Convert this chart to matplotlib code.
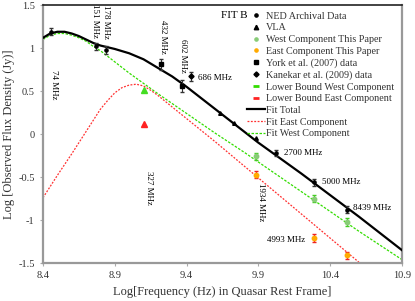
import numpy as np
import matplotlib
matplotlib.use('Agg')
import matplotlib.pyplot as plt
from matplotlib.lines import Line2D

plt.rcParams['font.family'] = ['Liberation Serif', 'DejaVu Serif']

# fit curves
fit_x = [8.40, 8.45, 8.50, 8.55, 8.60, 8.65, 8.70, 8.75, 8.80, 8.85, 8.90, 9.00, 9.10,
         9.20, 9.30, 9.40, 9.50, 9.60, 9.70, 9.80, 9.90, 10.00, 10.20, 10.40, 10.60, 10.80, 10.90]
fit_total = [1.12, 1.17, 1.19, 1.19, 1.17, 1.14, 1.10, 1.06, 1.03, 1.01, 0.99, 0.94, 0.87,
             0.77, 0.67, 0.55, 0.42, 0.29, 0.16, 0.03, -0.10, -0.22, -0.46, -0.71, -0.96, -1.22, -1.35]

west_x = [8.40, 8.45, 8.50, 8.55, 8.60, 8.65, 8.70, 8.75, 8.80, 8.90, 9.00, 9.10, 9.20,
          9.40, 9.60, 9.80, 10.00, 10.20, 10.40, 10.60, 10.80, 10.90]
fit_west = [1.10, 1.15, 1.17, 1.17, 1.15, 1.12, 1.08, 1.02, 0.97, 0.84, 0.71, 0.59, 0.47,
            0.24, 0.01, -0.21, -0.44, -0.67, -0.90, -1.13, -1.35, -1.46]

east_x = [8.40, 8.50, 8.60, 8.70, 8.80, 8.85, 8.90, 8.95, 9.00, 9.05, 9.10, 9.15, 9.20,
          9.40, 9.60, 9.80, 10.00, 10.20, 10.40, 10.60]
fit_east = [-0.74, -0.48, -0.23, 0.03, 0.29, 0.39, 0.48, 0.54, 0.57, 0.58, 0.56, 0.51, 0.45,
            0.18, -0.09, -0.37, -0.65, -0.93, -1.21, -1.49]

# data points
ned_x = [8.456, 8.77, 8.84, 10.02, 10.29, 10.52]
ned_y = [1.19, 1.02, 0.98, -0.22, -0.56, -0.88]
ned_err = [0.04, 0.04, 0.05, 0.03, 0.04, 0.04]

vla_x = [9.63, 9.73, 9.88]
vla_y = [0.24, 0.13, -0.05]

york_x = [9.22, 9.37]
york_y = [0.81, 0.56]
york_err = [0.06, 0.07]

kan_x = [9.43]
kan_y = [0.67]
kan_err = [0.05]

west_px = [9.88, 10.29, 10.52]
west_py = [-0.26, -0.75, -1.02]
west_err = [0.04, 0.04, 0.05]

east_px = [9.88, 10.29, 10.52]
east_py = [-0.47, -1.21, -1.41]
east_err = [0.04, 0.05, 0.04]

lb_x = [9.10]
lb_west = [0.51]
lb_east = [0.12]

fig = plt.figure(figsize=(4.15, 3.01), dpi=100)
ax = fig.add_axes([0.1036, 0.126, 0.865, 0.857])

ax.plot(fit_x, fit_total, color='black', lw=1.6, zorder=3)
ax.plot(east_x, fit_east, color='#ff3030', lw=0.9, linestyle=(0, (1.5, 1.2)), zorder=2)
ax.plot(west_x, fit_west, color='#33dd00', lw=0.9, linestyle=(0, (2, 1.2)), zorder=2)

ax.errorbar(ned_x, ned_y, yerr=ned_err, fmt='o', ms=2.3, color='black', ecolor='#333333',
            elinewidth=0.8, capsize=1.5, zorder=4)
ax.plot(vla_x, vla_y, '^', ms=2.6, color='black', zorder=4)
ax.errorbar(york_x, york_y, yerr=york_err, fmt='s', ms=3.2, color='black', ecolor='#333333',
            elinewidth=0.8, capsize=1.5, zorder=4)
ax.errorbar(kan_x, kan_y, yerr=kan_err, fmt='D', ms=2.6, color='black', ecolor='#333333',
            elinewidth=0.8, capsize=1.5, zorder=4)
ax.errorbar(west_px, west_py, yerr=west_err, fmt='o', ms=3.2, color='#88cc77', ecolor='#44cc22',
            elinewidth=0.9, capsize=1.5, zorder=4)
ax.errorbar(east_px, east_py, yerr=east_err, fmt='o', ms=3.2, color='#ffaa00', ecolor='#ee2222',
            elinewidth=0.9, capsize=1.5, zorder=4)
ax.plot(lb_x, lb_west, '^', ms=4.2, color='#44dd22', zorder=4)
ax.plot(lb_x, lb_east, '^', ms=4.2, color='#ff2222', zorder=4)

ax.set_xlim(8.4, 10.9)
ax.set_ylim(-1.5, 1.5)
ax.set_xticks([8.4, 8.9, 9.4, 9.9, 10.4, 10.9])
ax.set_xticklabels(['8.4', '8.9', '9.4', '9.9', '10.4', '10.9'])
ax.set_yticks([-1.5, -1, -0.5, 0, 0.5, 1, 1.5])
ax.set_yticklabels(['-1.5', '-1', '-0.5', '0', '0.5', '1', '1.5'])
ax.tick_params(labelsize=7.5, length=2, color='#aaaaaa', labelcolor='#333333', pad=4)

for s in ['left', 'bottom', 'right']:
    ax.spines[s].set_color('#999999')
    ax.spines[s].set_linewidth(1.6)
ax.spines['top'].set_color('#222222')
ax.spines['top'].set_linewidth(1.2)

ax.set_xlabel('Log[Frequency (Hz) in Quasar Rest Frame]', fontsize=9, color='#333333', labelpad=4)
ax.set_ylabel('Log [Observed Flux Density (Jy)]', fontsize=9, color='#333333', labelpad=2)

# annotations
fs = 6.5
ax.text(8.48, 0.58, '74 MHz', rotation=270, fontsize=fs, ha='center', va='center')
ax.text(8.765, 1.32, '151 MHz', rotation=270, fontsize=fs, ha='center', va='center')
ax.text(8.84, 1.30, '178 MHz', rotation=270, fontsize=fs, ha='center', va='center')
ax.text(9.235, 1.13, '432 MHz', rotation=270, fontsize=fs, ha='center', va='center')
ax.text(9.375, 0.91, '602 MHz', rotation=270, fontsize=fs, ha='center', va='center')
ax.text(9.48, 0.65, '686 MHz', fontsize=fs, ha='left', va='center')
ax.text(9.135, -0.62, '327 MHz', rotation=270, fontsize=fs, ha='center', va='center')
ax.text(9.915, -0.79, '1934 MHz', rotation=270, fontsize=fs, ha='center', va='center')
ax.text(10.08, -0.22, '2700 MHz', fontsize=fs, ha='left', va='center')
ax.text(10.34, -0.56, '5000 MHz', fontsize=fs, ha='left', va='center')
ax.text(10.56, -0.86, '8439 MHz', fontsize=fs, ha='left', va='center')
ax.text(9.96, -1.23, '4993 MHz', fontsize=fs, ha='left', va='center')
ax.text(9.64, 1.38, 'FIT B', fontsize=8, ha='left', va='center')

handles = [
    Line2D([], [], marker='o', ms=2.3, color='black', ls='none'),
    Line2D([], [], marker='^', ms=3.2, color='black', ls='none'),
    Line2D([], [], marker='o', ms=2.3, color='#88cc77', ls='none'),
    Line2D([], [], marker='o', ms=2.3, color='#ffaa00', ls='none'),
    Line2D([], [], marker='s', ms=2.8, color='black', ls='none'),
    Line2D([], [], marker='D', ms=2.6, color='black', ls='none'),
    Line2D([], [], marker='_', ms=5, mew=2, color='#33dd00', ls='none'),
    Line2D([], [], marker='_', ms=5, mew=2, color='#ff2222', ls='none'),
    Line2D([], [], color='black', lw=1.6),
    Line2D([], [], color='#ff3030', lw=0.9, linestyle=(0, (1.5, 1.2))),
    Line2D([], [], color='#33dd00', lw=0.9, linestyle=(0, (2, 1.2))),
]
labels = ['NED Archival Data', 'VLA', 'West Component This Paper', 'East Component This Paper',
          'York et al. (2007) data', 'Kanekar et al. (2009) data', 'Lower Bound West Component',
          'Lower Bound East Component', 'Fit Total', 'Fit East Component', 'Fit West Component']
leg = ax.legend(handles, labels, loc='upper right', bbox_to_anchor=(0.997, 1.0), frameon=False,
                fontsize=7.3, labelspacing=0.25, handlelength=1.7, handletextpad=0.15,
                borderaxespad=0.25)
for t in leg.get_texts():
    t.set_color('#333333')

fig.savefig('out.png', dpi=100)
